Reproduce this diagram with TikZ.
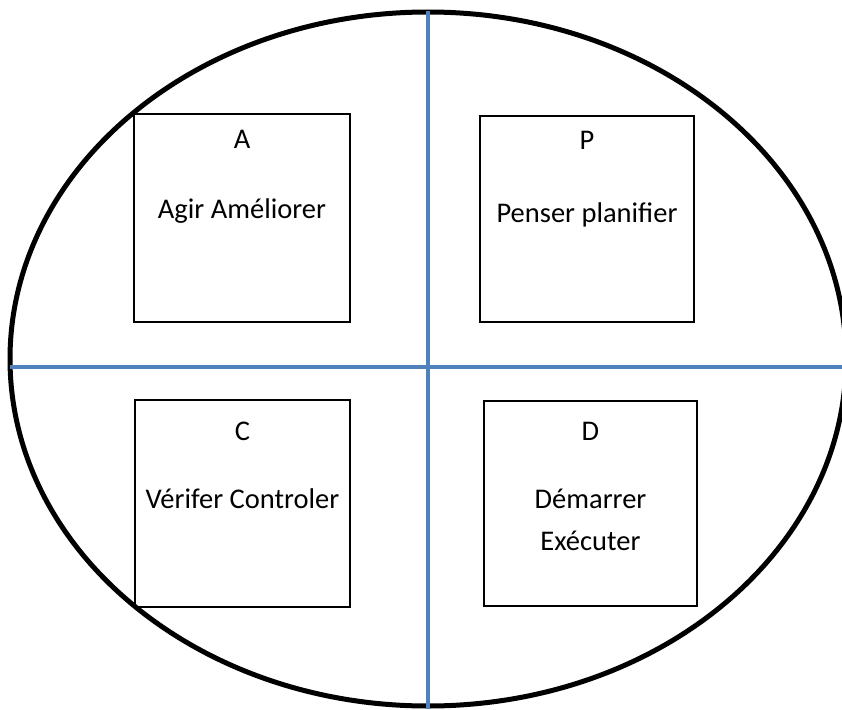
\documentclass[tikz,border=0pt]{standalone}
\usepackage{fontspec}
\setmainfont{Carlito}
\usetikzlibrary{positioning}
\definecolor{axisblue}{RGB}{79,129,189}
\tikzset{
	ring/.style={
		draw=black,
		line width=5pt,
	},
	axis/.style={
		draw=axisblue,
		line width=4pt,
	},
	phase/.style={
		rectangle,
		draw=black,
		line width=1.6pt,
		inner sep=0pt,
	},
	letter/.style={
		font=\fontsize{28.5}{34}\selectfont,
	},
	task/.style={
		font=\fontsize{28.5}{42}\selectfont,
		align=center,
	},
}
\begin{document}
\begin{tikzpicture}[x=1pt,y=-1pt]
	\useasboundingbox (0,0) rectangle (842,709);

	\draw[ring] (428,359) ellipse [x radius=418, y radius=347];

	% the four quarters
	\node [phase, minimum width=216pt, minimum height=208pt] (act) at (242,218) {};
	\node [phase, minimum width=214pt, minimum height=206pt] (plan) at (587,219) {};
	\node [phase, minimum width=215pt, minimum height=207pt] (check) at (242.5,503.5) {};
	\node [phase, minimum width=213pt, minimum height=205pt] (do) at (590.5,503.5) {};

	\node [letter] (la) at ([yshift=-26pt]act.north) {A};
	\node [task] (ta) at ([yshift=-98pt]act.north) {Agir Améliorer};
	\node [letter] (lp) at ([yshift=-25pt]plan.north) {P};
	\node [task] (tp) at ([yshift=-100pt]plan.north) {Penser planifier};
	\node [letter] (lc) at ([yshift=-32pt]check.north) {C};
	\node [task] (tc) at ([yshift=-100pt]check.north) {Vérifer Controler};
	\node [letter] (ld) at ([yshift=-31pt]do.north) {D};
	\node [task] (td) at ([yshift=-120pt]do.north) {Démarrer\\Exécuter};

	% axes
	\coordinate (west) at (10,367);
	\coordinate (east) at (842,367);
	\coordinate (north) at (428,11);
	\coordinate (south) at (428,709);
	\draw[axis] (west) -- (east);
	\draw[axis] (north) -- (south);
\end{tikzpicture}
\end{document}
